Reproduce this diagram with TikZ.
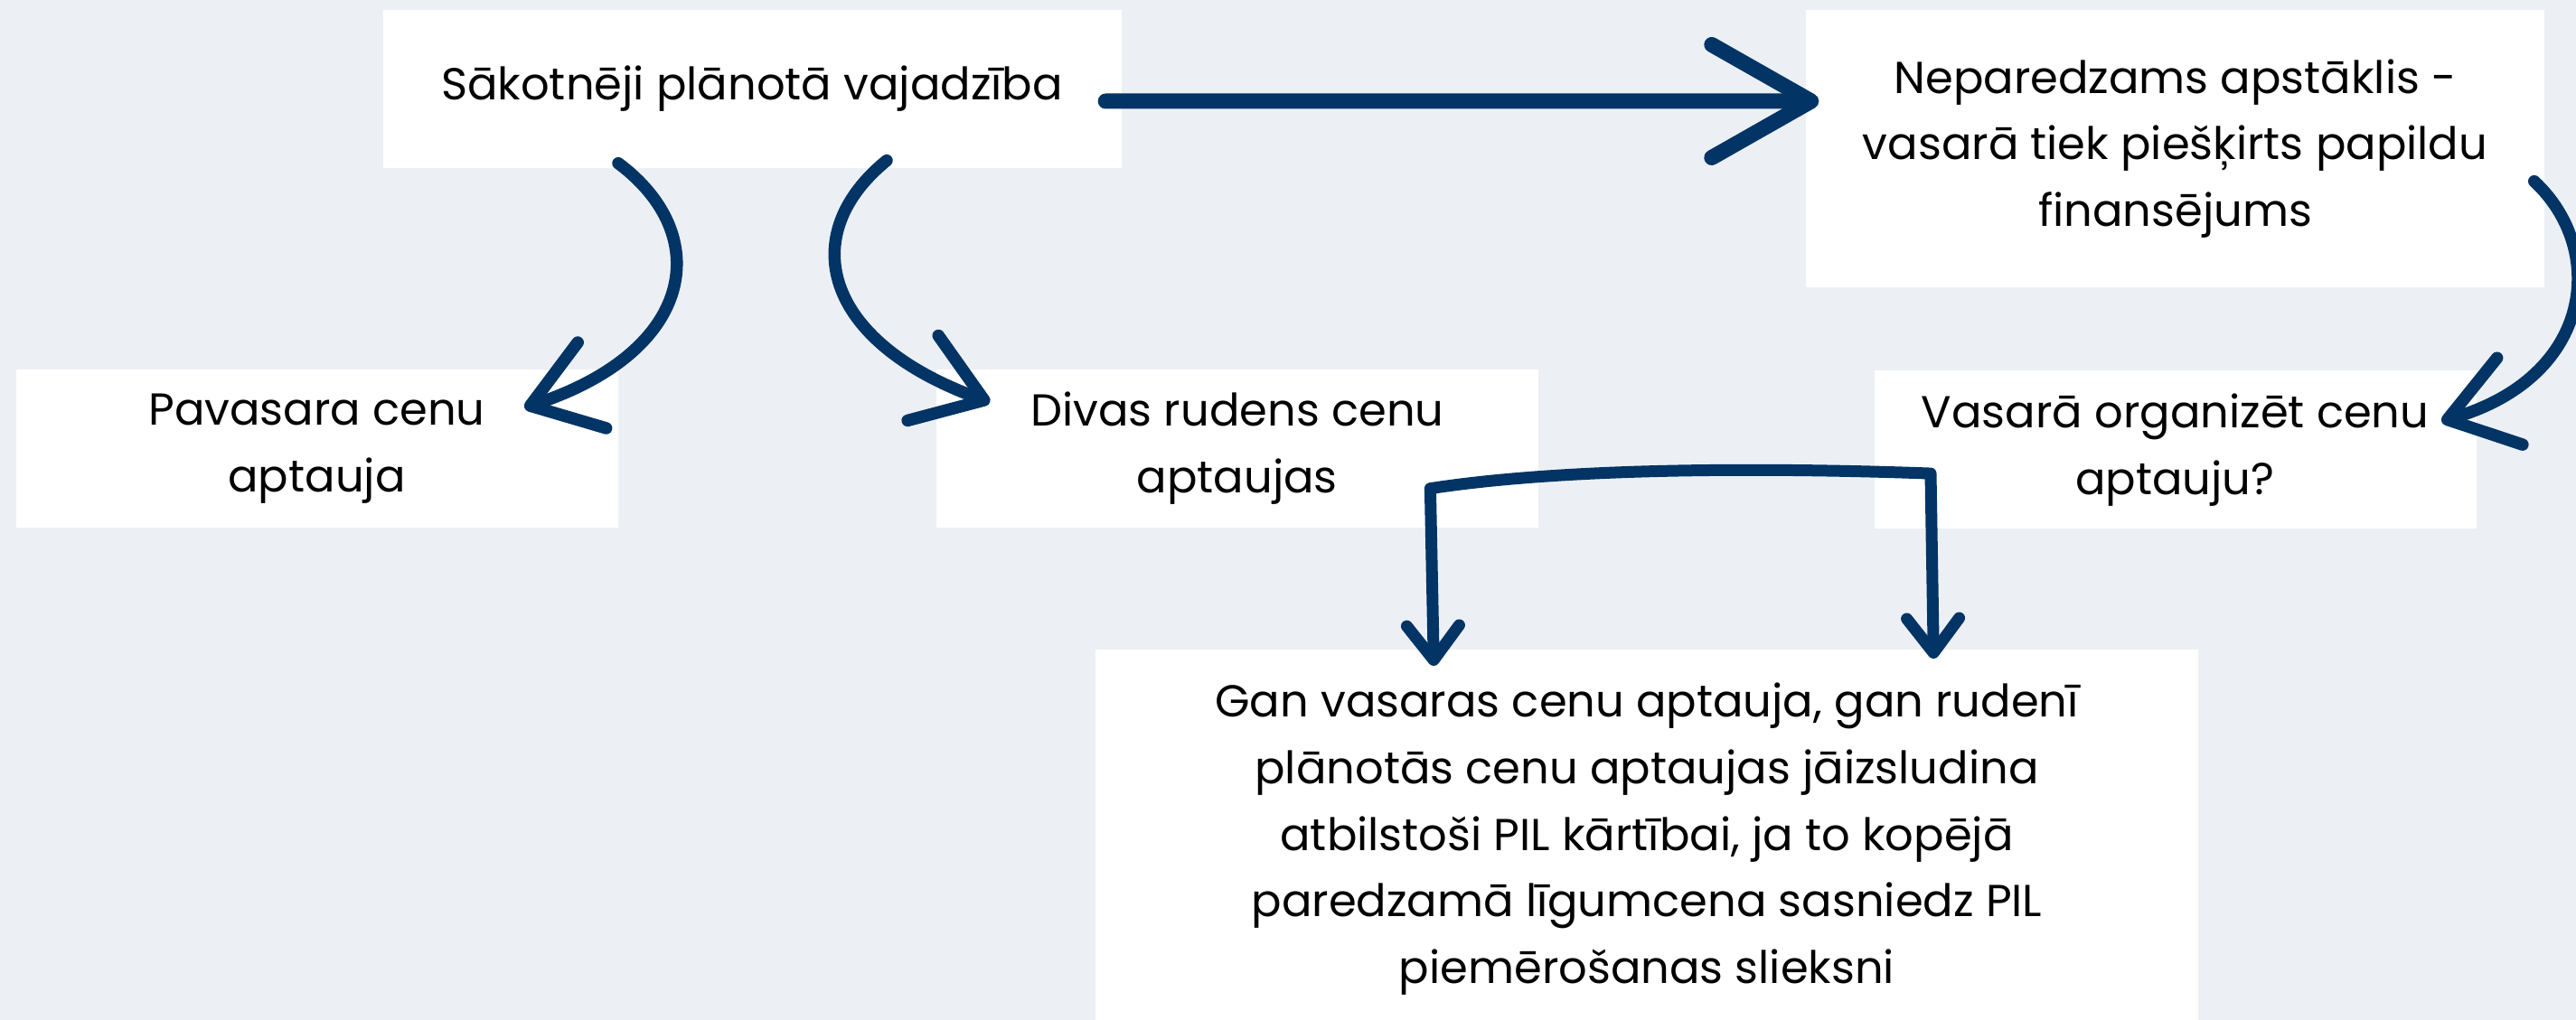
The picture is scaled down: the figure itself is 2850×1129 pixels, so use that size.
\documentclass[tikz,border=0pt]{standalone}
\usepackage{fontspec}
\setmainfont{Poppins}
\usetikzlibrary{arrows.meta,positioning,calc}
\definecolor{navy}{RGB}{2,52,101}
\definecolor{bgcol}{RGB}{236,240,245}

\begin{document}
\begin{tikzpicture}[%
    x=0.1mm, y=0.1mm,               % one unit is one pixel of the sketch
    node distance=9.1mm and 35.1mm, % spacing of the boxes
    font=\fontsize{14.1}{21}\selectfont
    ]
% -------------------------------------------------
% Box and connector styles
\tikzset{
  box/.style={fill=white, align=center, inner sep=0pt, minimum height=17.5mm},
  wide/.style={box, minimum width=81.7mm},
  narrow/.style={box, minimum width=66.6mm},
  % connectors look like brush strokes with open barbs
  flow/.style={draw=navy, line cap=round, line join=round},
  jump/.style={flow, line width=1.7mm,
    -{Straight Barb[round, length=11mm, width=12.5mm]}},
  curl/.style={flow, line width=1.35mm,
    -{Straight Barb[round, length=7.2mm, width=10mm]}},
  fork/.style={flow, line width=1.3mm,
    {Straight Barb[round, length=3.8mm, width=5.8mm]}-{Straight Barb[round, length=3.8mm, width=5.8mm]}}
}
\fill [bgcol] (0,0) rectangle (2850,1129);
\useasboundingbox (0,0) rectangle (2850,1129);

% -------------------------------------------------
% Top row
\node [wide] (plan) at (832,1030.5) {Sākotnēji plānotā vajadzība};
\node [wide, minimum height=30.7mm] (extra) at (2406.5,964.5)
  {Neparedzams apstāklis -\\vasarā tiek piešķirts papildu\\finansējums};

% Middle row
\node [narrow] (spring) at (350.5,632.5) {Pavasara cenu\\aptauja};
\node [narrow, right=of spring] (autumn) {Divas rudens cenu\\aptaujas};
\node [narrow, below=of extra] (summer) {Vasarā organizēt cenu\\aptauju?};

% Bottom box runs off the page
\node [box, minimum width=122mm, inner ysep=3.7mm, anchor=north] (both) at (1822,411)
  {Gan vasaras cenu aptauja, gan rudenī\\plānotās cenu aptaujas jāizsludina\\atbilstoši PIL kārtībai, ja to kopējā\\paredzamā līgumcena sasniedz PIL\\piemērošanas slieksni};

% -------------------------------------------------
% Connectors
\draw [jump] ($(plan.east)+(-18,-13.5)$) -- ($(extra.west)+(15,52.5)$);

\draw [curl] ($(plan.south)+(-148,6)$)
  .. controls +(106,-79) and +(190,63) .. ($(spring.north east)+(-104,-43)$);
\draw [curl] ($(plan.south)+(149,9)$)
  .. controls +(-101,-82) and +(-185,67) .. ($(autumn.north west)+(60,-37)$);
\draw [curl] ($(extra.south east)+(-12,118)$)
  .. controls +(80,-74) and +(170,50) .. ($(summer.east)+(-39,31.5)$);

% the bracket feeds both surveys into the last box
\draw [fork] ($(both.north west)+(375,-19)$) -- ($(autumn.south)+(213.5,44)$)
  .. controls +(168,26) and +(-136,5) .. ($(summer.south)+(-270.5,62)$)
  -- ($(both.north west)+(928,-11)$);
\end{tikzpicture}
\end{document}
